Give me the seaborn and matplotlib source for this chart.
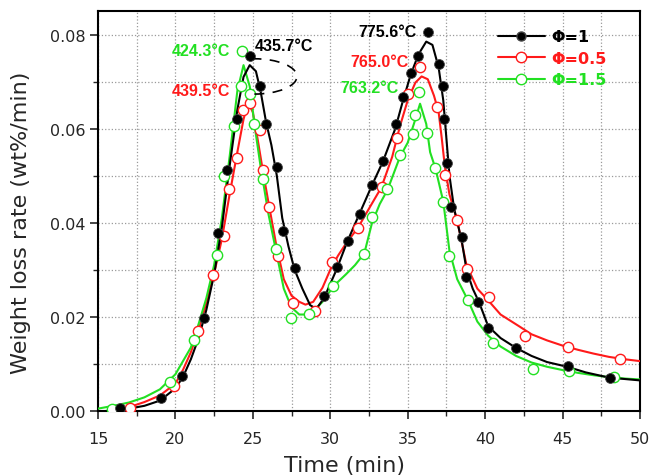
import matplotlib
matplotlib.use("Agg")
import matplotlib.pyplot as plt
import seaborn as sns
from matplotlib.lines import Line2D
from matplotlib.patches import Arc
from matplotlib.ticker import MultipleLocator

# fitted curves
black_lx = [15.5, 16.0, 17.0, 18.0, 19.0, 20.0, 20.5, 21.0, 21.5, 22.0, 22.5, 23.0, 23.5, 24.0, 24.4,
            24.8, 25.2, 25.5, 25.85, 26.2, 26.55, 26.9, 27.3, 27.7, 28.2, 28.7, 29.1, 29.6, 30.4, 31.1,
            31.9, 32.7, 33.4, 34.2, 34.7, 35.2, 35.7, 36.2, 36.6, 37.0, 37.3, 37.5, 37.7, 38.0, 38.5,
            38.8, 39.2, 39.6, 40.2, 41.0, 42.0, 43.0, 44.0, 45.3, 46.5, 48.0, 50.0]
black_ly = [0.0, 0.0001, 0.0005, 0.0011, 0.0022, 0.0048, 0.0073, 0.011, 0.0155, 0.0215, 0.029, 0.039,
            0.052, 0.064, 0.071, 0.0735, 0.0722, 0.068, 0.0615, 0.0565, 0.050, 0.041, 0.035, 0.030,
            0.026, 0.0225, 0.0217, 0.024, 0.030, 0.036, 0.042, 0.048, 0.053, 0.060, 0.066, 0.0715,
            0.0758, 0.0785, 0.0778, 0.073, 0.066, 0.058, 0.050, 0.043, 0.036, 0.030, 0.026, 0.0232,
            0.018, 0.0155, 0.0134, 0.0117, 0.0104, 0.0094, 0.0082, 0.0071, 0.0065]

red_lx = [16.0, 17.0, 18.0, 19.0, 20.0, 20.5, 21.0, 21.5, 22.0, 22.5, 23.0, 23.5, 24.0, 24.4, 24.7,
          25.0, 25.3, 25.65, 26.0, 26.5, 27.0, 27.5, 28.0, 28.4, 28.9, 29.5, 30.0, 30.5, 31.0, 31.8,
          32.5, 33.3, 34.0, 34.5, 35.0, 35.5, 35.9, 36.3, 36.7, 37.0, 37.2, 37.4, 37.7, 38.2, 38.8,
          39.5, 40.2, 41.0, 42.2, 43.0, 44.0, 45.0, 46.0, 47.0, 48.0, 49.0, 50.0]
red_ly = [0.0002, 0.0008, 0.0019, 0.0033, 0.0058, 0.0088, 0.0125, 0.0172, 0.023, 0.0292, 0.0365,
          0.046, 0.055, 0.062, 0.0655, 0.0635, 0.058, 0.051, 0.0445, 0.0355, 0.028, 0.0245, 0.0232,
          0.0226, 0.0232, 0.0262, 0.030, 0.033, 0.0355, 0.039, 0.043, 0.0475, 0.054, 0.0605, 0.066,
          0.0698, 0.0711, 0.0705, 0.067, 0.0635, 0.058, 0.052, 0.046, 0.0405, 0.031, 0.026, 0.0235,
          0.0205, 0.018, 0.0163, 0.015, 0.0139, 0.013, 0.0122, 0.0115, 0.011, 0.0106]

green_lx = [15.0, 16.0, 17.0, 18.0, 19.0, 20.0, 21.0, 21.5, 22.0, 22.5, 23.0, 23.5, 24.0, 24.4, 24.8,
            25.1, 25.5, 26.0, 26.5, 27.0, 27.5, 28.0, 28.5, 29.0, 29.5, 30.2, 31.0, 31.6, 32.2, 32.7,
            33.2, 33.7, 34.5, 35.0, 35.4, 35.8, 36.2, 36.45, 36.8, 37.3, 37.7, 38.2, 38.9, 39.5, 40.2,
            41.0, 42.0, 43.0, 44.0, 45.0, 46.0, 47.0, 48.0, 49.0, 50.0]
green_ly = [0.0005, 0.0011, 0.0018, 0.0029, 0.0046, 0.0078, 0.0135, 0.0185, 0.024, 0.031, 0.041,
            0.054, 0.068, 0.0735, 0.069, 0.061, 0.052, 0.042, 0.034, 0.026, 0.022, 0.0205, 0.0205,
            0.0215, 0.0232, 0.0265, 0.029, 0.031, 0.0335, 0.040, 0.044, 0.047, 0.054, 0.057, 0.061,
            0.0653, 0.061, 0.055, 0.0515, 0.0445, 0.034, 0.028, 0.0235, 0.019, 0.016, 0.0137, 0.0117,
            0.0103, 0.0094, 0.0087, 0.0081, 0.0076, 0.0072, 0.0069, 0.0067]

# measured points
black_mx = [16.4, 19.1, 20.4, 21.85, 22.75, 23.33, 23.95, 24.82, 25.46, 25.85, 26.55, 26.93, 27.72,
            29.6, 30.43, 31.14, 31.92, 32.7, 33.4, 34.24, 34.7, 35.2, 35.66, 36.3, 37.0, 37.25, 37.32,
            37.54, 37.8, 38.5, 38.76, 39.54, 40.2, 42.0, 45.35, 48.06]
black_my = [0.0006, 0.0028, 0.0074, 0.0198, 0.0379, 0.0513, 0.0621, 0.0755, 0.0691, 0.0609, 0.0519,
            0.0382, 0.0304, 0.0245, 0.0306, 0.0362, 0.0419, 0.0481, 0.0532, 0.0609, 0.0668, 0.0719,
            0.0755, 0.0806, 0.0738, 0.0691, 0.0621, 0.0526, 0.0434, 0.037, 0.0285, 0.0232, 0.0177,
            0.0134, 0.0096, 0.007]

red_mx = [17.1, 19.9, 21.46, 22.43, 23.14, 23.46, 23.98, 24.36, 24.85, 25.46, 25.65, 26.04, 26.6,
          27.6, 29.0, 30.1, 31.8, 33.34, 34.3, 35.0, 35.8, 36.9, 37.4, 38.2, 38.83, 40.25, 42.57,
          45.35, 48.7]
red_my = [0.0006, 0.0053, 0.017, 0.0289, 0.0372, 0.0472, 0.0538, 0.064, 0.0655, 0.0598, 0.0513,
          0.0434, 0.033, 0.023, 0.0213, 0.0317, 0.0389, 0.0477, 0.0581, 0.0674, 0.0732, 0.0647,
          0.0502, 0.0406, 0.0302, 0.0243, 0.016, 0.0136, 0.0111]

green_mx = [15.9, 19.65, 21.2, 22.68, 23.14, 23.78, 24.23, 24.3, 24.82, 25.07, 25.65, 26.5, 27.46,
            28.6, 30.17, 32.18, 32.7, 33.66, 34.5, 35.34, 35.47, 35.73, 36.24, 36.76, 37.28, 37.7,
            38.9, 40.5, 43.1, 45.4, 48.3]
green_my = [0.0004, 0.0062, 0.0151, 0.0332, 0.05, 0.0606, 0.0691, 0.0766, 0.0674, 0.0609, 0.0494,
            0.0345, 0.0198, 0.0206, 0.0266, 0.0334, 0.0413, 0.0472, 0.0543, 0.0589, 0.0628, 0.0677,
            0.0591, 0.0517, 0.0445, 0.033, 0.0236, 0.0145, 0.0089, 0.0085, 0.0072]

labels = ["\u03a6=1", "\u03a6=0.5", "\u03a6=1.5"]
colors = ["black", "#ff1a1a", "#22e022"]

sns.set_style("ticks")
plt.rcParams["font.family"] = ["DejaVu Sans"]

fig = plt.figure(figsize=(6.51, 4.77), dpi=100)
ax = fig.add_axes([0.1505, 0.1363, 0.8325, 0.8385])

# lines
for lx, ly, c in [(red_lx, red_ly, colors[1]), (green_lx, green_ly, colors[2]), (black_lx, black_ly, colors[0])]:
    sns.lineplot(x=lx, y=ly, color=c, linewidth=1.5, sort=False, estimator=None, ax=ax, zorder=3)

# markers
sns.scatterplot(x=red_mx, y=red_my, s=55, facecolor="white", edgecolor=colors[1], linewidth=1.0, ax=ax, zorder=4)
sns.scatterplot(x=green_mx, y=green_my, s=55, facecolor="white", edgecolor=colors[2], linewidth=1.0, ax=ax, zorder=4)
sns.scatterplot(x=black_mx, y=black_my, s=50, color="black", edgecolor="#444444", linewidth=0.6, ax=ax, zorder=5)

ax.set_xlim(15, 50)
ax.set_ylim(0, 0.085)
ax.xaxis.set_major_locator(MultipleLocator(5))
ax.xaxis.set_minor_locator(MultipleLocator(2.5))
ax.yaxis.set_major_locator(MultipleLocator(0.02))
ax.yaxis.set_minor_locator(MultipleLocator(0.01))
ax.yaxis.set_major_formatter(matplotlib.ticker.FormatStrFormatter("%.2f"))
ax.grid(which="both", linestyle=":", color="#9a9a9a", linewidth=0.9)
ax.set_axisbelow(True)

ax.tick_params(which="major", direction="out", length=5.5, width=1.2, labelsize=11.5)
ax.tick_params(axis="x", which="major", pad=9)
ax.tick_params(axis="y", which="major", pad=3.5)
ax.tick_params(which="minor", direction="out", length=3.5, width=1.0)
for sp in ax.spines.values():
    sp.set_linewidth(1.5)
    sp.set_color("black")

ax.set_xlabel("Time (min)", fontsize=16)
ax.set_ylabel("Weight loss rate (wt%/min)", fontsize=16)
ax.xaxis.set_label_coords(0.454, -0.11)
ax.yaxis.set_label_coords(-0.124, 0.4725)

# peak annotations
ann = dict(fontsize=11.5, fontweight="bold", family="Liberation Sans", va="center", zorder=6)
ax.text(23.55, 0.0766, "424.3°C", color=colors[2], ha="right", **ann)
ax.text(25.14, 0.0777, "435.7°C", color="black", ha="left", **ann)
ax.text(23.55, 0.0681, "439.5°C", color=colors[1], ha="right", **ann)
ax.text(35.6, 0.0806, "775.6°C", color="black", ha="right", **ann)
ax.text(35.08, 0.0743, "765.0°C", color=colors[1], ha="right", **ann)
ax.text(34.44, 0.0687, "763.2°C", color=colors[2], ha="right", **ann)
ax.add_patch(Arc((25.1, 0.0711), 5.5, 0.0075, theta1=-97, theta2=100, color="black",
                 linewidth=1.2, linestyle=(0, (6, 5)), zorder=6))

handles = [
    Line2D([], [], color=colors[0], linewidth=1.5, marker="o", markersize=6.5,
           markerfacecolor="black", markeredgecolor="#444444"),
    Line2D([], [], color=colors[1], linewidth=1.5, marker="o", markersize=7.5,
           markerfacecolor="white", markeredgecolor=colors[1]),
    Line2D([], [], color=colors[2], linewidth=1.5, marker="o", markersize=7.5,
           markerfacecolor="white", markeredgecolor=colors[2]),
]
leg = ax.legend(handles, labels, loc="upper left", bbox_to_anchor=(0.712, 0.99), frameon=False,
                handlelength=2.9, handletextpad=0.4, labelspacing=0.4,
                prop={"weight": "bold", "size": 11.5})
for t, c in zip(leg.get_texts(), colors):
    t.set_color(c)

fig.savefig("out.png", dpi=100)
